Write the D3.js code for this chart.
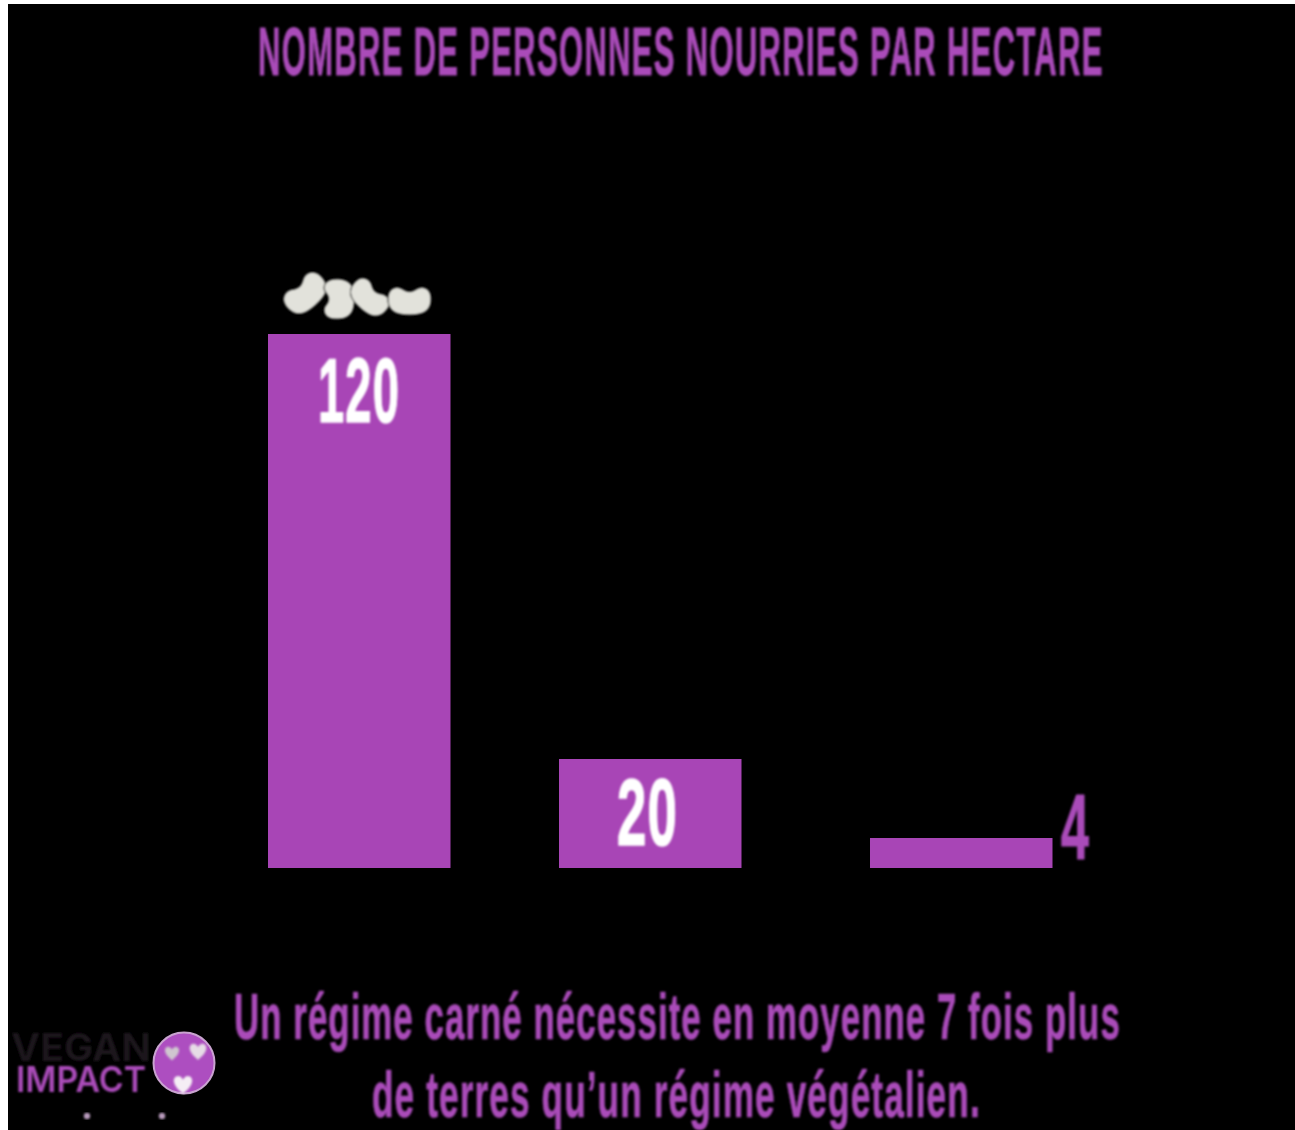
<!DOCTYPE html>
<html lang="fr"><head><meta charset="utf-8">
<script src="https://cdn.jsdelivr.net/npm/d3@7"></script>
<style>html,body{margin:0;padding:0;background:#fff}svg{display:block}
text{font-family:"Liberation Sans Narrow","Liberation Sans",sans-serif;font-weight:700}</style>
</head><body><div id="c"></div>
<script>
const barKeys = ["a","b","c"];
const values = [120,20,4];
const titleText = "NOMBRE DE PERSONNES NOURRIES PAR HECTARE";
const noteLines = ["Un régime carné nécessite en moyenne 7 fois plus","de terres qu’un régime végétalien."];
const logoWords = ["VEGAN","IMPACT"];

const W=1295,H=1130,purple="#a845b6",textPurple="#aa4cb9";
const svg=d3.select("#c").append("svg").attr("width",W).attr("height",H);
const defs=svg.append("defs");
defs.append("filter").attr("id","soft").append("feGaussianBlur").attr("stdDeviation",0.8);
defs.append("filter").attr("id","soft2").append("feGaussianBlur").attr("stdDeviation",1.2);
defs.append("filter").attr("id","edge").append("feGaussianBlur").attr("stdDeviation",0.5);
svg.append("rect").attr("x",8).attr("y",4).attr("width",W-8).attr("height",H-4).attr("fill","#000");

// The source's bars are not to linear scale, so the value scale is piecewise.
const y=d3.scaleLinear().domain([0,4,20,120]).range([868,838,759,334]);
const x=d3.scaleOrdinal().domain(barKeys).range([268,559,870]);
const barW=182.5;
const rows=barKeys.map((k,i)=>({k,v:values[i]}));

svg.append("g").attr("filter","url(#edge)").selectAll("rect").data(rows).join("rect")
 .attr("x",d=>x(d.k)).attr("y",d=>y(d.v)).attr("width",barW)
 .attr("height",d=>y(0)-y(d.v)).attr("fill",purple);

// Places a text so that its drawn width is exactly len, squeezing the glyphs.
function fit(parent,str,o){
  const g=parent.append("g").attr("filter","url(#soft)");
  const t=g.append("text").attr("font-size",o.size).attr("fill",o.fill)
    .style("letter-spacing",(o.ls||0)+"px").text(str);
  if(o.family) t.style("font-family",o.family);
  if(o.weight) t.style("font-weight",o.weight);
  if(o.stroke) t.attr("stroke",o.fill).attr("stroke-width",o.stroke).attr("stroke-linejoin","round");
  const sx=o.len/t.node().getComputedTextLength();
  t.attr("transform",`translate(${o.x},${o.y}) scale(${sx},1)`);
  return t;
}

fit(svg,titleText,{x:258,y:75,len:846,size:68,fill:textPurple,ls:3,stroke:.8});

const lab=[{len:82,x:318,y:422,size:90,fill:"#fff",ls:2,stroke:1.6},{len:61,x:617,y:845,size:94,fill:"#fff",ls:2,stroke:1.6},{len:28,x:1061,y:859,size:92,fill:textPurple,stroke:1.2}];
rows.forEach((d,i)=>fit(svg,String(d.v),lab[i]));

fit(svg,noteLines[0],{x:234,y:1039,len:887,size:65,fill:textPurple,ls:2,stroke:.7});
fit(svg,noteLines[1],{x:372,y:1117,len:609,size:65,fill:textPurple,ls:2,stroke:.7});

// beans
const kidney="M-1,0C-1.05,-.7 -.55,-.8 -.25,-.55C-.1,-.45 .1,-.45 .25,-.55C.55,-.8 1.05,-.7 1,0C.95,.6 .5,.7 0,.7C-.5,.7 -.95,.6 -1,0Z";
const beans=[[306,294,-42,23,21],[339,299,-90,20,22],[369,298,42,21,19],[409.5,301,0,21.5,20]];
svg.append("g").attr("filter","url(#soft)").selectAll("path").data(beans).join("path").attr("d",kidney)
 .attr("transform",d=>`translate(${d[0]},${d[1]}) rotate(${d[2]}) scale(${d[3]},${d[4]})`)
 .attr("fill","#e2e2db").attr("stroke","#000").attr("stroke-width",.05);

// logo
fit(svg,logoWords[0],{x:11,y:1061,len:140,size:38,fill:"#1a131b",family:"Inter",weight:700});
fit(svg,logoWords[1],{x:16,y:1092,len:130,size:36,fill:textPurple,family:"Inter",weight:600});
const logo=svg.append("g");
logo.append("circle").attr("cx",184).attr("cy",1063).attr("r",30.5).attr("fill","#ad4ec0").attr("stroke","#c9a3d0").attr("stroke-width",2);
logo.append("g").attr("filter","url(#soft2)").selectAll("path").data([[172,1052,.85,"#cfc6cf"],[198,1050,1,"#e6dce6"],[183,1083,1.1,"#f5eef5"]]).join("path")
 .attr("d","M0,-3C-3,-9 -10,-6 -8,0C-7,4 -3,7 0,10C3,7 7,4 8,0C10,-6 3,-9 0,-3Z")
 .attr("transform",d=>`translate(${d[0]},${d[1]}) scale(${d[2]})`).attr("fill",d=>d[3]);
logo.append("g").attr("filter","url(#soft)").selectAll("circle").data([87,162]).join("circle")
 .attr("cx",d=>d).attr("cy",1116).attr("r",3.2).attr("fill","#b79abb");
</script></body></html>
